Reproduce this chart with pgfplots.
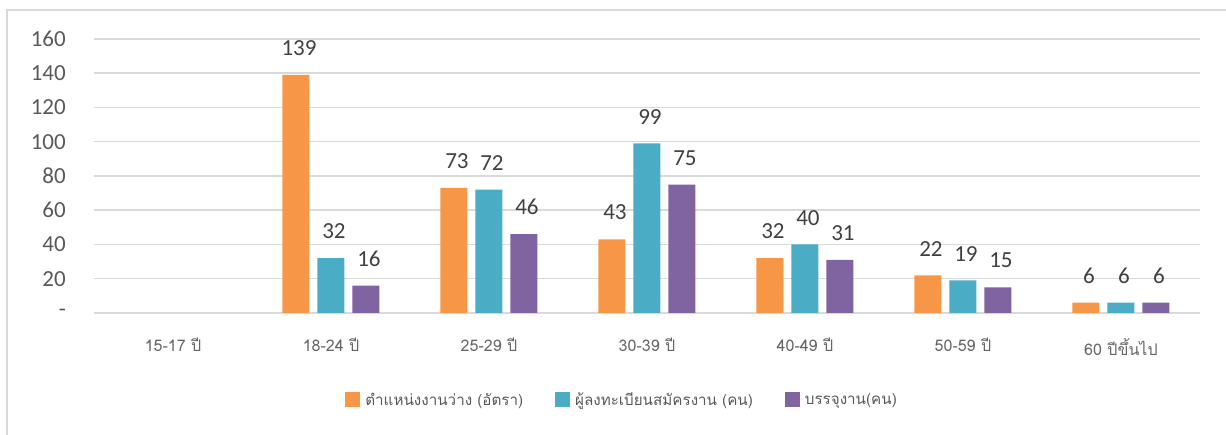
\documentclass[border=0pt]{standalone}
\usepackage{pgfplots}
\pgfplotsset{compat=1.18}
\usepackage{fontspec}
\setmainfont{Carlito}
\newfontfamily\thaifont[Script=Thai]{Loma}
\definecolor{corange}{HTML}{F79646}
\definecolor{cteal}{HTML}{4BACC6}
\definecolor{cpurple}{HTML}{8064A2}
\definecolor{gridgray}{HTML}{D9D9D9}
\definecolor{tickgray}{HTML}{595959}
\definecolor{xgray}{HTML}{666666}
\definecolor{labelgray}{HTML}{404040}
\begin{document}
\begin{tikzpicture}[x=1pt,y=1pt]
\useasboundingbox (0,0) rectangle (1226,435);
\draw[gridgray, line width=1.5pt] (7,-10) rectangle (1240,425);
\begin{axis}[
  at={(94pt,122pt)}, anchor=south west,
  scale only axis, width=1106pt, height=274pt,
  xmin=-0.5, xmax=6.5, ymin=0, ymax=160,
  ybar=8pt, bar width=27pt,
  axis line style={draw=none},
  major tick length=0pt,
  ymajorgrids, grid style={gridgray, line width=1.5pt},
  ytick={0,20,...,160},
  yticklabels={-,20,40,60,80,100,120,140,160},
  yticklabel style={font=\fontsize{23}{26}\selectfont, text=tickgray, anchor=east, inner sep=0pt, xshift=-28pt},
  xtick={0,...,6},
  xticklabels={15-17 ปี,18-24 ปี,25-29 ปี,30-39 ปี,40-49 ปี,50-59 ปี,60 ปีขึ้นไป},
  xticklabel style={font=\thaifont\fontsize{16}{18}\selectfont, text=xgray, anchor=north, inner sep=0pt, yshift=-25pt},
  nodes near coords,
  /pgf/number format/assume math mode=true,
  nodes near coords style={font=\fontsize{23}{26}\selectfont, text=labelgray, anchor=south, inner sep=0pt, yshift=19pt, xshift=3pt},
  legend image code/.code={\fill[#1] (0pt,-7.5pt) rectangle (15pt,7.5pt); \path (0pt,0pt) -- (18pt,0pt);},
  legend style={at={(0.4775,-0.3175)}, anchor=center, draw=none, fill=none,
    legend columns=3, font=\thaifont\fontsize{15.2}{18}\selectfont, text=tickgray,
    /tikz/every even column/.append style={column sep=30pt}},
  legend cell align=left,
]
\addplot[fill=corange, draw=none] coordinates {(1,139) (2,73) (3,43) (4,32) (5,22) (6,6)};
\addplot[fill=cteal, draw=none] coordinates {(1,32) (2,72) (3,99) (4,40) (5,19) (6,6)};
\addplot[fill=cpurple, draw=none] coordinates {(1,16) (2,46) (3,75) (4,31) (5,15) (6,6)};
\legend{ตำแหน่งงานว่าง (อัตรา),ผู้ลงทะเบียนสมัครงาน (คน),บรรจุงาน(คน)}
\end{axis}
\end{tikzpicture}
\end{document}
